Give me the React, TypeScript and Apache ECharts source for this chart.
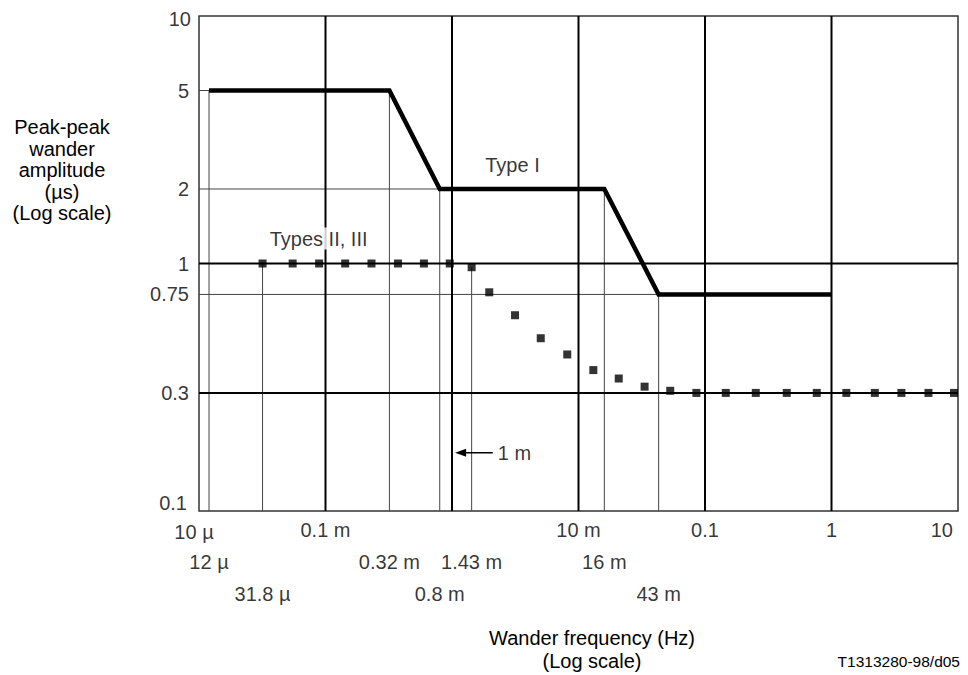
import React, { useEffect, useRef } from "react";
import * as echarts from "echarts";

// Axis ranges (log scales)
const FREQ_MIN = 1e-5;
const FREQ_MAX = 10;
const AMP_MIN = 0.1;
const AMP_MAX = 10;

// Type I mask (Hz, µs)
const typeIFreq = [12e-6, 0.32e-3, 0.8e-3, 16e-3, 43e-3, 1];
const typeIAmp = [5, 5, 2, 2, 0.75, 0.75];

// Types II, III mask, drawn as square dots (Hz, µs)
const typeIIFreq = [
  31.8e-6, 5.5e-5, 8.9e-5, 1.43e-4, 2.31e-4, 3.74e-4, 6.0e-4, 9.6e-4,
  1.43e-3, 1.97e-3, 3.15e-3, 5.03e-3, 8.15e-3, 1.31e-2, 2.08e-2, 3.33e-2, 5.31e-2,
  8.55e-2, 0.146, 0.252, 0.443, 0.765, 1.31, 2.2, 3.57, 5.84, 9.3,
];
const typeIIAmp = [
  1, 1, 1, 1, 1, 1, 1, 1,
  0.966, 0.765, 0.618, 0.499, 0.429, 0.371, 0.343, 0.318, 0.306,
  0.3, 0.3, 0.3, 0.3, 0.3, 0.3, 0.3, 0.3, 0.3, 0.3,
];

// Reference lines
const majorFreq = [1e-4, 1e-3, 1e-2, 0.1, 1];
const majorAmp = [1, 0.3];
const dropFreq = [12e-6, 31.8e-6, 0.32e-3, 0.8e-3, 1.43e-3, 16e-3, 43e-3];
const dropFromAmp = [5, 1, 5, 2, 0.966, 2, 0.75];
const levelAmp = [5, 2, 0.75];
const levelToFreq = [12e-6, 0.8e-3, 43e-3];

// Tick labels
const yTickValues = [0.1, 0.3, 0.75, 1, 2, 5, 10];
const yTickLabels = ["0.1", "0.3", "0.75", "1", "2", "5", "10"];
const xRow1Values = [1e-5, 1e-4, 1e-2, 0.1, 1, 10];
const xRow1Labels = ["10 µ", "0.1 m", "10 m", "0.1", "1", "10"];
const xRow2Values = [12e-6, 0.32e-3, 1.43e-3, 16e-3];
const xRow2Labels = ["12 µ", "0.32 m", "1.43 m", "16 m"];
const xRow3Values = [31.8e-6, 0.8e-3, 43e-3];
const xRow3Labels = ["31.8 µ", "0.8 m", "43 m"];

// Annotations
const arrowFreq = [2.1e-3, 1.17e-3];
const arrowAmp = 0.172;
const arrowText = "1 m";
const typeILabelAt = [2.6e-3, 2];
const typeIILabelAt = [8.2e-5, 1];

const FONT = "'Liberation Sans', Arial, Helvetica, sans-serif";
const FS = 20;

export default function App() {
  const ref = useRef<HTMLDivElement>(null);

  useEffect(() => {
    const el = ref.current!;
    const chart = echarts.init(el, null, { renderer: "svg" });

    const seg = (data: number[][], width: number, color: string, z: number) => ({
      type: "line",
      data,
      symbol: "none",
      silent: true,
      z,
      lineStyle: { width, color },
    });

    const series: any[] = [];
    majorFreq.forEach((f) => series.push(seg([[f, AMP_MIN], [f, AMP_MAX]], 2, "#000", 3)));
    majorAmp.forEach((a) => series.push(seg([[FREQ_MIN, a], [FREQ_MAX, a]], 2, "#000", 3)));
    dropFreq.forEach((f, i) => series.push(seg([[f, dropFromAmp[i]], [f, AMP_MIN]], 1, "#444", 2)));
    levelAmp.forEach((a, i) => series.push(seg([[FREQ_MIN, a], [levelToFreq[i], a]], 1, "#444", 2)));

    series.push({
      type: "line",
      name: "Type I",
      data: typeIFreq.map((f, i) => [f, typeIAmp[i]]),
      symbol: "none",
      silent: true,
      z: 5,
      lineStyle: { width: 4.5, color: "#000", join: "miter", cap: "butt" },
    });

    series.push({
      type: "scatter",
      name: "Types II, III",
      data: typeIIFreq.map((f, i) => [f, typeIIAmp[i]]),
      symbol: "rect",
      symbolSize: 8,
      silent: true,
      z: 6,
      itemStyle: { color: "#000" },
    });

    // arrow pointing at 1 mHz
    series.push({
      type: "line",
      data: [
        { value: [arrowFreq[0], arrowAmp], symbol: "none" },
        {
          value: [arrowFreq[1], arrowAmp],
          symbol: "triangle",
          symbolSize: [8, 11],
          symbolRotate: 90,
        },
      ],
      showSymbol: true,
      silent: true,
      z: 6,
      lineStyle: { width: 1.5, color: "#000" },
      itemStyle: { color: "#000" },
    });

    const textLabels = (
      values: number[][],
      texts: string[],
      label: any,
      z = 10
    ) => ({
      type: "scatter",
      silent: true,
      symbolSize: 1,
      z,
      itemStyle: { color: "rgba(0,0,0,0)" },
      data: values.map((v, i) => ({ name: texts[i], value: v })),
      label: {
        show: true,
        formatter: "{b}",
        color: "#000",
        fontFamily: FONT,
        fontSize: FS,
        position: "inside",
        textBorderWidth: 0,
        textBorderColor: "transparent",
        ...label,
      },
    });

    // y tick labels
    series.push({
      ...textLabels(
        yTickValues.map((v) => [FREQ_MIN, v]),
        yTickLabels,
        { align: "right", verticalAlign: "middle", offset: [-10, 0] }
      ),
      data: yTickValues.map((v, i) => ({
        name: yTickLabels[i],
        value: [FREQ_MIN, v],
        label: v === AMP_MIN ? { offset: [-12, -8] } : v === AMP_MAX ? { offset: [-8, 3] } : undefined,
      })),
    });

    // x tick labels (three rows)
    const xRow = (vals: number[], texts: string[], dy: number) => ({
      ...textLabels(vals.map((v) => [v, AMP_MIN]), texts, {
        align: "center",
        verticalAlign: "middle",
        offset: [0, dy],
      }),
      data: vals.map((v, i) => ({
        name: texts[i],
        value: [v, AMP_MIN],
        label:
          v === FREQ_MAX
            ? { align: "right", offset: [-5, dy] }
            : v === FREQ_MIN
            ? { offset: [-5, dy + 2] }
            : undefined,
      })),
    });
    series.push(xRow(xRow1Values, xRow1Labels, 19));
    series.push(xRow(xRow2Values, xRow2Labels, 51));
    series.push(xRow(xRow3Values, xRow3Labels, 83));

    // "1 m" annotation text
    series.push(
      textLabels([[arrowFreq[0], arrowAmp]], [arrowText], {
        align: "left",
        verticalAlign: "middle",
        offset: [5, 0],
      })
    );

    // curve labels
    series.push(
      textLabels([typeILabelAt], ["Type I"], {
        align: "center",
        verticalAlign: "middle",
        offset: [8, -24],
      })
    );
    series.push(
      textLabels(
        [typeIILabelAt],
        ["Types II, III"],
        {
          align: "center",
          verticalAlign: "middle",
          offset: [4, -25],
          backgroundColor: "#fff",
          padding: [1, 2],
        },
        8
      )
    );

    const titleStyle = {
      fill: "#000",
      align: "center",
      verticalAlign: "middle",
      textAlign: "center",
      textVerticalAlign: "middle",
    };

    chart.setOption({
      animation: false,
      backgroundColor: "#fff",
      grid: {
        left: 199,
        right: 10,
        top: 16,
        bottom: 164,
        show: true,
        borderColor: "#333",
        borderWidth: 1.5,
        backgroundColor: "#fff",
      },
      xAxis: {
        type: "log",
        logBase: 10,
        min: FREQ_MIN,
        max: FREQ_MAX,
        axisLine: { show: false },
        axisTick: { show: false },
        axisLabel: { show: false },
        splitLine: { show: false },
      },
      yAxis: {
        type: "log",
        logBase: 10,
        min: AMP_MIN,
        max: AMP_MAX,
        axisLine: { show: false },
        axisTick: { show: false },
        axisLabel: { show: false },
        splitLine: { show: false },
      },
      graphic: [
        {
          type: "text",
          x: 62,
          y: 170,
          style: {
            ...titleStyle,
            text: "Peak-peak\nwander\namplitude\n(µs)\n(Log scale)",
            font: `${FS}px ${FONT}`,
            lineHeight: 21.5,
          },
        },
        {
          type: "text",
          x: 592,
          y: 649,
          style: {
            ...titleStyle,
            text: "Wander frequency (Hz)\n(Log scale)",
            font: `${FS}px ${FONT}`,
            lineHeight: 23,
          },
        },
        {
          type: "text",
          x: 960,
          y: 661,
          style: {
            ...titleStyle,
            text: "T1313280-98/d05",
            font: `15.5px ${FONT}`,
            align: "right",
            textAlign: "right",
          },
        },
      ],
      series,
    });

    return () => chart.dispose();
  }, []);

  return (
    <div
      ref={ref}
      style={{ position: "fixed", left: 0, top: 0, width: 968, height: 675, background: "#fff" }}
    />
  );
}
